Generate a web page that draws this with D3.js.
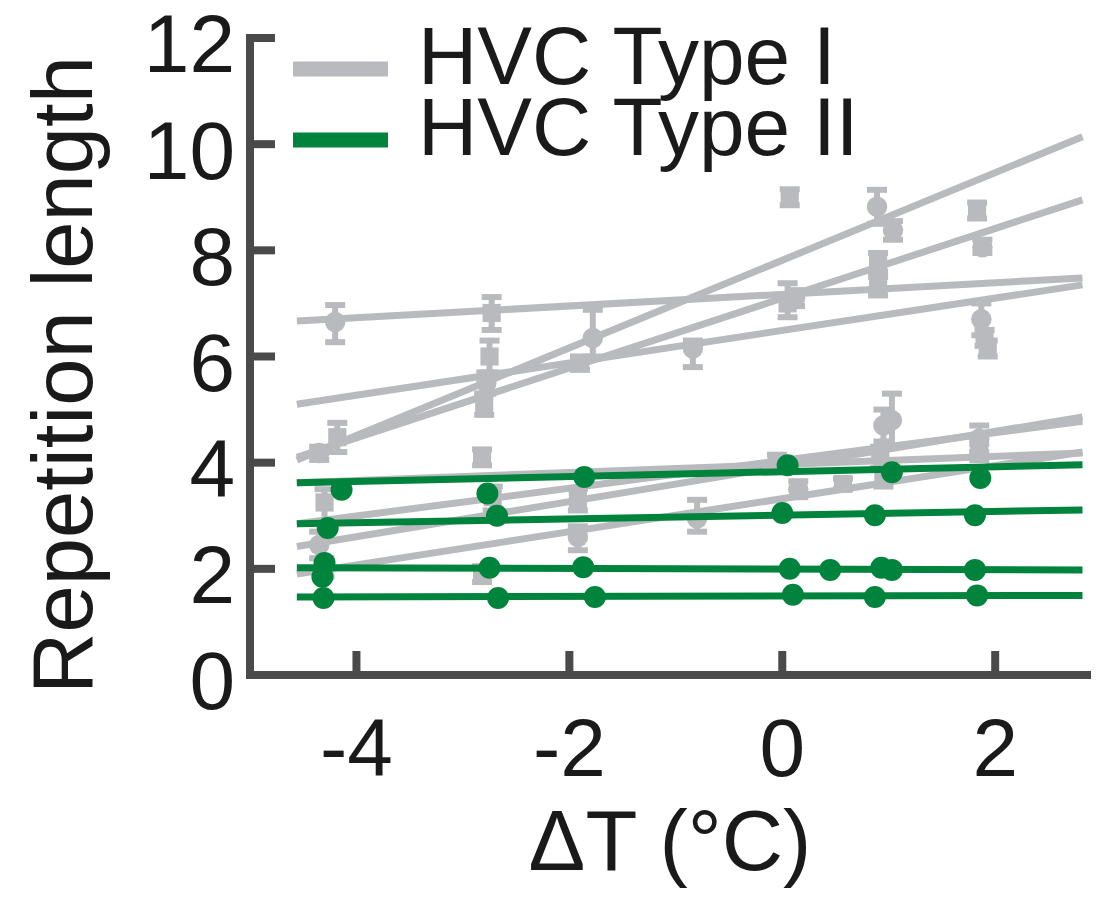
<!DOCTYPE html>
<html>
<head>
<meta charset="utf-8">
<script src="https://cdn.jsdelivr.net/npm/d3@7"></script>
<style>
  html, body { margin: 0; padding: 0; background: #fff; }
  svg { display: block; }
  text { font-family: "Liberation Sans", Arial, Helvetica, sans-serif; fill: #1a1a1a; }
</style>
</head>
<body>
<svg id="chart" width="1106" height="902"></svg>
<script>
// ---------------- data ----------------
const xTicks = [-4, -2, 0, 2];
const yTicks = [0, 2, 4, 6, 8, 10, 12];
const legendLabels = ["HVC Type I", "HVC Type II"];
const xLabel = "\u0394T (\u00B0C)";
const yLabel = "Repetition length";

// regression line span (ΔT)
const lineSpan = [-4.56, 2.82];
// HVC Type I fitted lines: [value at left end, value at right end]
const typeILines = [
  [6.67, 7.48], [4.05, 10.14], [4.10, 8.95], [5.10, 7.35],
  [3.62, 4.18], [2.42, 4.86], [1.90, 4.20], [2.85, 4.78]
];
// HVC Type II fitted lines
const typeIILines = [
  [3.62, 3.96], [2.85, 3.11], [2.02, 1.98], [1.47, 1.50]
];
// HVC Type I points: [ΔT, mean, low, high, marker]
const typeIPoints = [
  [-4.20, 6.65, 6.27, 6.97, "c"], [-4.18, 4.48, 4.20, 4.75, "s"], [-4.35, 4.18, 4.05, 4.30, "c"],
  [-2.73, 6.82, 6.50, 7.12, "s"], [-2.75, 6.00, 5.70, 6.30, "s"], [-2.78, 5.50, 5.30, 5.70, "c"],
  [-2.80, 5.10, 4.90, 5.30, "s"], [-2.82, 4.10, 3.95, 4.25, "s"],
  [-1.78, 6.35, 6.00, 6.88, "c"], [-1.90, 5.87, 5.75, 6.00, "s"],
  [-0.84, 6.15, 5.80, 6.30, "c"],
  [0.07, 9.00, 8.85, 9.15, "s"], [0.05, 7.00, 6.74, 7.38, "s"], [0.12, 7.10, 6.95, 7.25, "c"],
  [0.89, 8.82, 8.50, 9.14, "c"], [1.04, 8.38, 8.20, 8.55, "c"], [0.90, 7.80, 7.60, 7.95, "s"],
  [0.90, 7.35, 7.15, 7.50, "s"],
  [1.83, 8.76, 8.60, 8.90, "s"], [1.88, 8.06, 7.95, 8.20, "c"], [1.87, 6.70, 6.40, 7.00, "c"],
  [1.90, 6.35, 6.20, 6.50, "s"], [1.93, 6.15, 6.00, 6.30, "s"],
  [-4.30, 3.25, 2.90, 3.50, "s"], [-4.35, 2.45, 2.20, 2.70, "c"], [-4.30, 2.05, 1.85, 2.20, "s"],
  [-2.72, 3.35, 3.10, 3.55, "s"], [-2.82, 1.90, 1.75, 2.05, "s"],
  [-1.92, 3.30, 3.10, 3.50, "s"], [-1.92, 2.60, 2.35, 2.80, "c"],
  [-0.80, 2.95, 2.70, 3.30, "c"],
  [0.15, 3.50, 3.35, 3.65, "c"], [0.57, 3.60, 3.50, 3.70, "s"], [-0.05, 4.00, 3.85, 4.15, "c"],
  [0.95, 4.70, 4.40, 5.00, "c"], [1.03, 4.80, 4.30, 5.30, "c"], [0.92, 4.15, 3.90, 4.30, "s"],
  [0.95, 3.80, 3.55, 4.00, "s"],
  [1.85, 4.45, 4.20, 4.70, "c"], [1.85, 4.20, 4.05, 4.35, "s"]
];
// HVC Type II points: [ΔT, mean]
const typeIIPoints = [
  [-4.14, 3.49], [-2.77, 3.42], [-1.86, 3.73], [0.05, 3.95], [1.03, 3.82], [1.86, 3.71],
  [-4.27, 2.77], [-2.68, 3.00], [0.00, 3.05], [0.87, 3.01], [1.81, 3.01],
  [-4.30, 2.11], [-4.32, 1.85], [-2.75, 2.02], [-1.87, 2.03], [0.07, 2.00], [0.45, 1.98],
  [0.93, 2.02], [1.03, 1.98], [1.81, 1.98],
  [-4.31, 1.45], [-2.67, 1.45], [-1.76, 1.47], [0.10, 1.51], [0.87, 1.47], [1.83, 1.50]
];

// ---------------- drawing ----------------
const grey = "#b9babd";
const green = "#00843d";
const axisCol = "#4a4a4a";

const svg = d3.select("#chart");
svg.append("rect").attr("width", 1106).attr("height", 902).attr("fill", "#fff");

const x = d3.scaleLinear().domain([-5, 2.9]).range([250, 1091]);
const y = d3.scaleLinear().domain([0, 12]).range([675, 38]);

const plot = svg.append("g");

// Type I lines
plot.selectAll("line.t1").data(typeILines).join("line")
  .attr("x1", x(lineSpan[0])).attr("x2", x(lineSpan[1]))
  .attr("y1", d => y(d[0])).attr("y2", d => y(d[1]))
  .attr("stroke", grey).attr("stroke-width", 7);

// Type I error bars + markers
const g1 = plot.selectAll("g.p1").data(typeIPoints).join("g");
g1.append("line")
  .attr("x1", d => x(d[0])).attr("x2", d => x(d[0]))
  .attr("y1", d => y(d[2])).attr("y2", d => y(d[3]))
  .attr("stroke", grey).attr("stroke-width", 6);
g1.append("line")
  .attr("x1", d => x(d[0]) - 10).attr("x2", d => x(d[0]) + 10)
  .attr("y1", d => y(d[2])).attr("y2", d => y(d[2]))
  .attr("stroke", grey).attr("stroke-width", 6);
g1.append("line")
  .attr("x1", d => x(d[0]) - 10).attr("x2", d => x(d[0]) + 10)
  .attr("y1", d => y(d[3])).attr("y2", d => y(d[3]))
  .attr("stroke", grey).attr("stroke-width", 6);
g1.append("path")
  .attr("transform", d => `translate(${x(d[0])},${y(d[1])})`)
  .attr("d", d => d3.symbol().type(d[4] === "s" ? d3.symbolSquare : d3.symbolCircle).size(330)())
  .attr("fill", grey);

// Type II lines
plot.selectAll("line.t2").data(typeIILines).join("line")
  .attr("x1", x(lineSpan[0])).attr("x2", x(lineSpan[1]))
  .attr("y1", d => y(d[0])).attr("y2", d => y(d[1]))
  .attr("stroke", green).attr("stroke-width", 7);

plot.selectAll("circle.p2").data(typeIIPoints).join("circle")
  .attr("cx", d => x(d[0])).attr("cy", d => y(d[1])).attr("r", 11)
  .attr("fill", green);

// ---------------- axes ----------------
const axes = svg.append("g").attr("stroke", axisCol).attr("stroke-width", 8).attr("stroke-linecap", "butt");
axes.append("line").attr("x1", x(-5)).attr("x2", x(-5)).attr("y1", y(12) - 4).attr("y2", y(0) + 4);
axes.append("line").attr("x1", x(-5) - 4).attr("x2", x(2.9)).attr("y1", y(0)).attr("y2", y(0));
axes.selectAll("line.yt").data(yTicks).join("line")
  .attr("x1", x(-5)).attr("x2", x(-5) + 25).attr("y1", d => y(d)).attr("y2", d => y(d));
axes.selectAll("line.xt").data(xTicks).join("line")
  .attr("x1", d => x(d)).attr("x2", d => x(d)).attr("y1", y(0)).attr("y2", y(0) - 24);

svg.selectAll("text.yl").data(yTicks).join("text")
  .attr("x", 235).attr("y", d => y(d)).attr("dy", "0.42em")
  .attr("text-anchor", "end").attr("font-size", 82).text(d => d);
svg.selectAll("text.xl").data(xTicks).join("text")
  .attr("x", d => x(d)).attr("y", 776)
  .attr("text-anchor", "middle").attr("font-size", 82).text(d => d < 0 ? "-" + Math.abs(d) : d);

svg.append("text").attr("x", 670).attr("y", 870).attr("text-anchor", "middle")
  .attr("font-size", 85).text(xLabel);
svg.append("text").attr("transform", "translate(92,375) rotate(-90)").attr("text-anchor", "middle")
  .attr("font-size", 85).text(yLabel);

// ---------------- legend ----------------
const legendColors = [grey, green];
const legendY = [69, 140];
const lg = svg.selectAll("g.lg").data(legendLabels).join("g");
lg.append("line").attr("x1", 293).attr("x2", 388)
  .attr("y1", (d, i) => legendY[i]).attr("y2", (d, i) => legendY[i])
  .attr("stroke", (d, i) => legendColors[i]).attr("stroke-width", 15);
lg.append("text").attr("x", 418).attr("y", (d, i) => [84, 155][i])
  .attr("font-size", 82).text(d => d);
</script>
</body>
</html>
